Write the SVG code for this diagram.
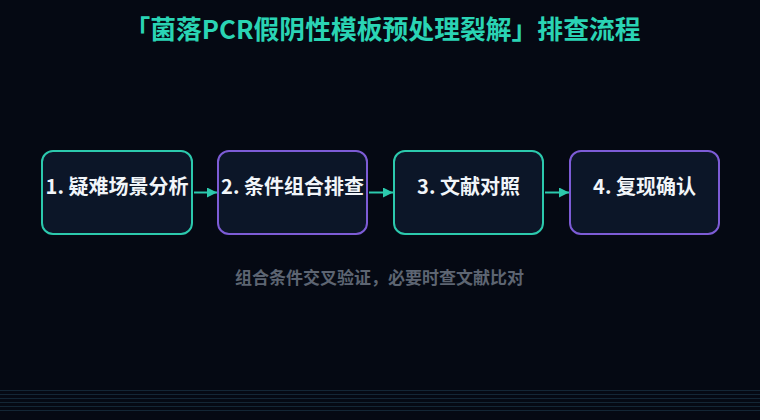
<svg xmlns="http://www.w3.org/2000/svg" width="760" height="420" viewBox="0 0 760 420">
  <defs>
    <style>
      .title { font-family: "Noto Sans CJK SC", "Noto Sans", sans-serif; font-weight: 700; font-size: 25.8px; fill: #2ad4b4; }
      .box { fill: #0c1628; stroke-width: 2; }
      .teal { stroke: #2cc9ad; }
      .purple { stroke: #7d5cd6; }
      .label { font-family: "Noto Sans CJK SC", "Noto Sans", sans-serif; font-weight: 700; font-size: 20px; fill: #f1f5f9; }
      .sub { font-family: "Noto Sans CJK SC", "Noto Sans", sans-serif; font-weight: 700; font-size: 17px; fill: #5d6572; }
      .conn { stroke: #2cc9ad; stroke-width: 2; fill: none; }
      .grid { stroke: #1a3344; stroke-width: 1; opacity: 0.7; }
    </style>
    <marker id="arrow" viewBox="0 0 10 10" refX="10" refY="5" markerWidth="10" markerHeight="10" markerUnits="userSpaceOnUse" orient="auto">
      <path d="M0,0 L10,5 L0,10 z" fill="#2cc9ad"/>
    </marker>
  </defs>
  <rect x="0" y="0" width="760" height="420" fill="#050913"/>
  <g id="bottom-lines">
    <line class="grid" x1="0" y1="390.5" x2="760" y2="390.5"/>
    <line class="grid" x1="0" y1="394.5" x2="760" y2="394.5"/>
    <line class="grid" x1="0" y1="398.5" x2="760" y2="398.5"/>
    <line class="grid" x1="0" y1="402.5" x2="760" y2="402.5"/>
    <line class="grid" x1="0" y1="406.5" x2="760" y2="406.5"/>
    <line class="grid" x1="0" y1="410.5" x2="760" y2="410.5"/>
  </g>
  <text id="title" class="title" x="382.5" y="39" text-anchor="middle">「菌落PCR假阴性模板预处理裂解」排查流程</text>
  <g id="connectors">
    <line class="conn" x1="194" y1="192.5" x2="217" y2="192.5" marker-end="url(#arrow)"/>
    <line class="conn" x1="369" y1="192.5" x2="393" y2="192.5" marker-end="url(#arrow)"/>
    <line class="conn" x1="545" y1="192.5" x2="569" y2="192.5" marker-end="url(#arrow)"/>
  </g>
  <g id="node1">
    <rect class="box teal" x="42" y="151" width="150" height="83" rx="11"/>
    <text class="label" x="117" y="194" text-anchor="middle">1. 疑难场景分析</text>
  </g>
  <g id="node2">
    <rect class="box purple" x="218" y="151" width="149" height="83" rx="11"/>
    <text class="label" x="292.5" y="194" text-anchor="middle">2. 条件组合排查</text>
  </g>
  <g id="node3">
    <rect class="box teal" x="394" y="151" width="149" height="83" rx="11"/>
    <text class="label" x="468.5" y="194" text-anchor="middle">3. 文献对照</text>
  </g>
  <g id="node4">
    <rect class="box purple" x="570" y="151" width="149" height="83" rx="11"/>
    <text class="label" x="644.5" y="194" text-anchor="middle">4. 复现确认</text>
  </g>
  <text id="subtitle" class="sub" x="379.5" y="283.5" text-anchor="middle">组合条件交叉验证，必要时查文献比对</text>
</svg>
